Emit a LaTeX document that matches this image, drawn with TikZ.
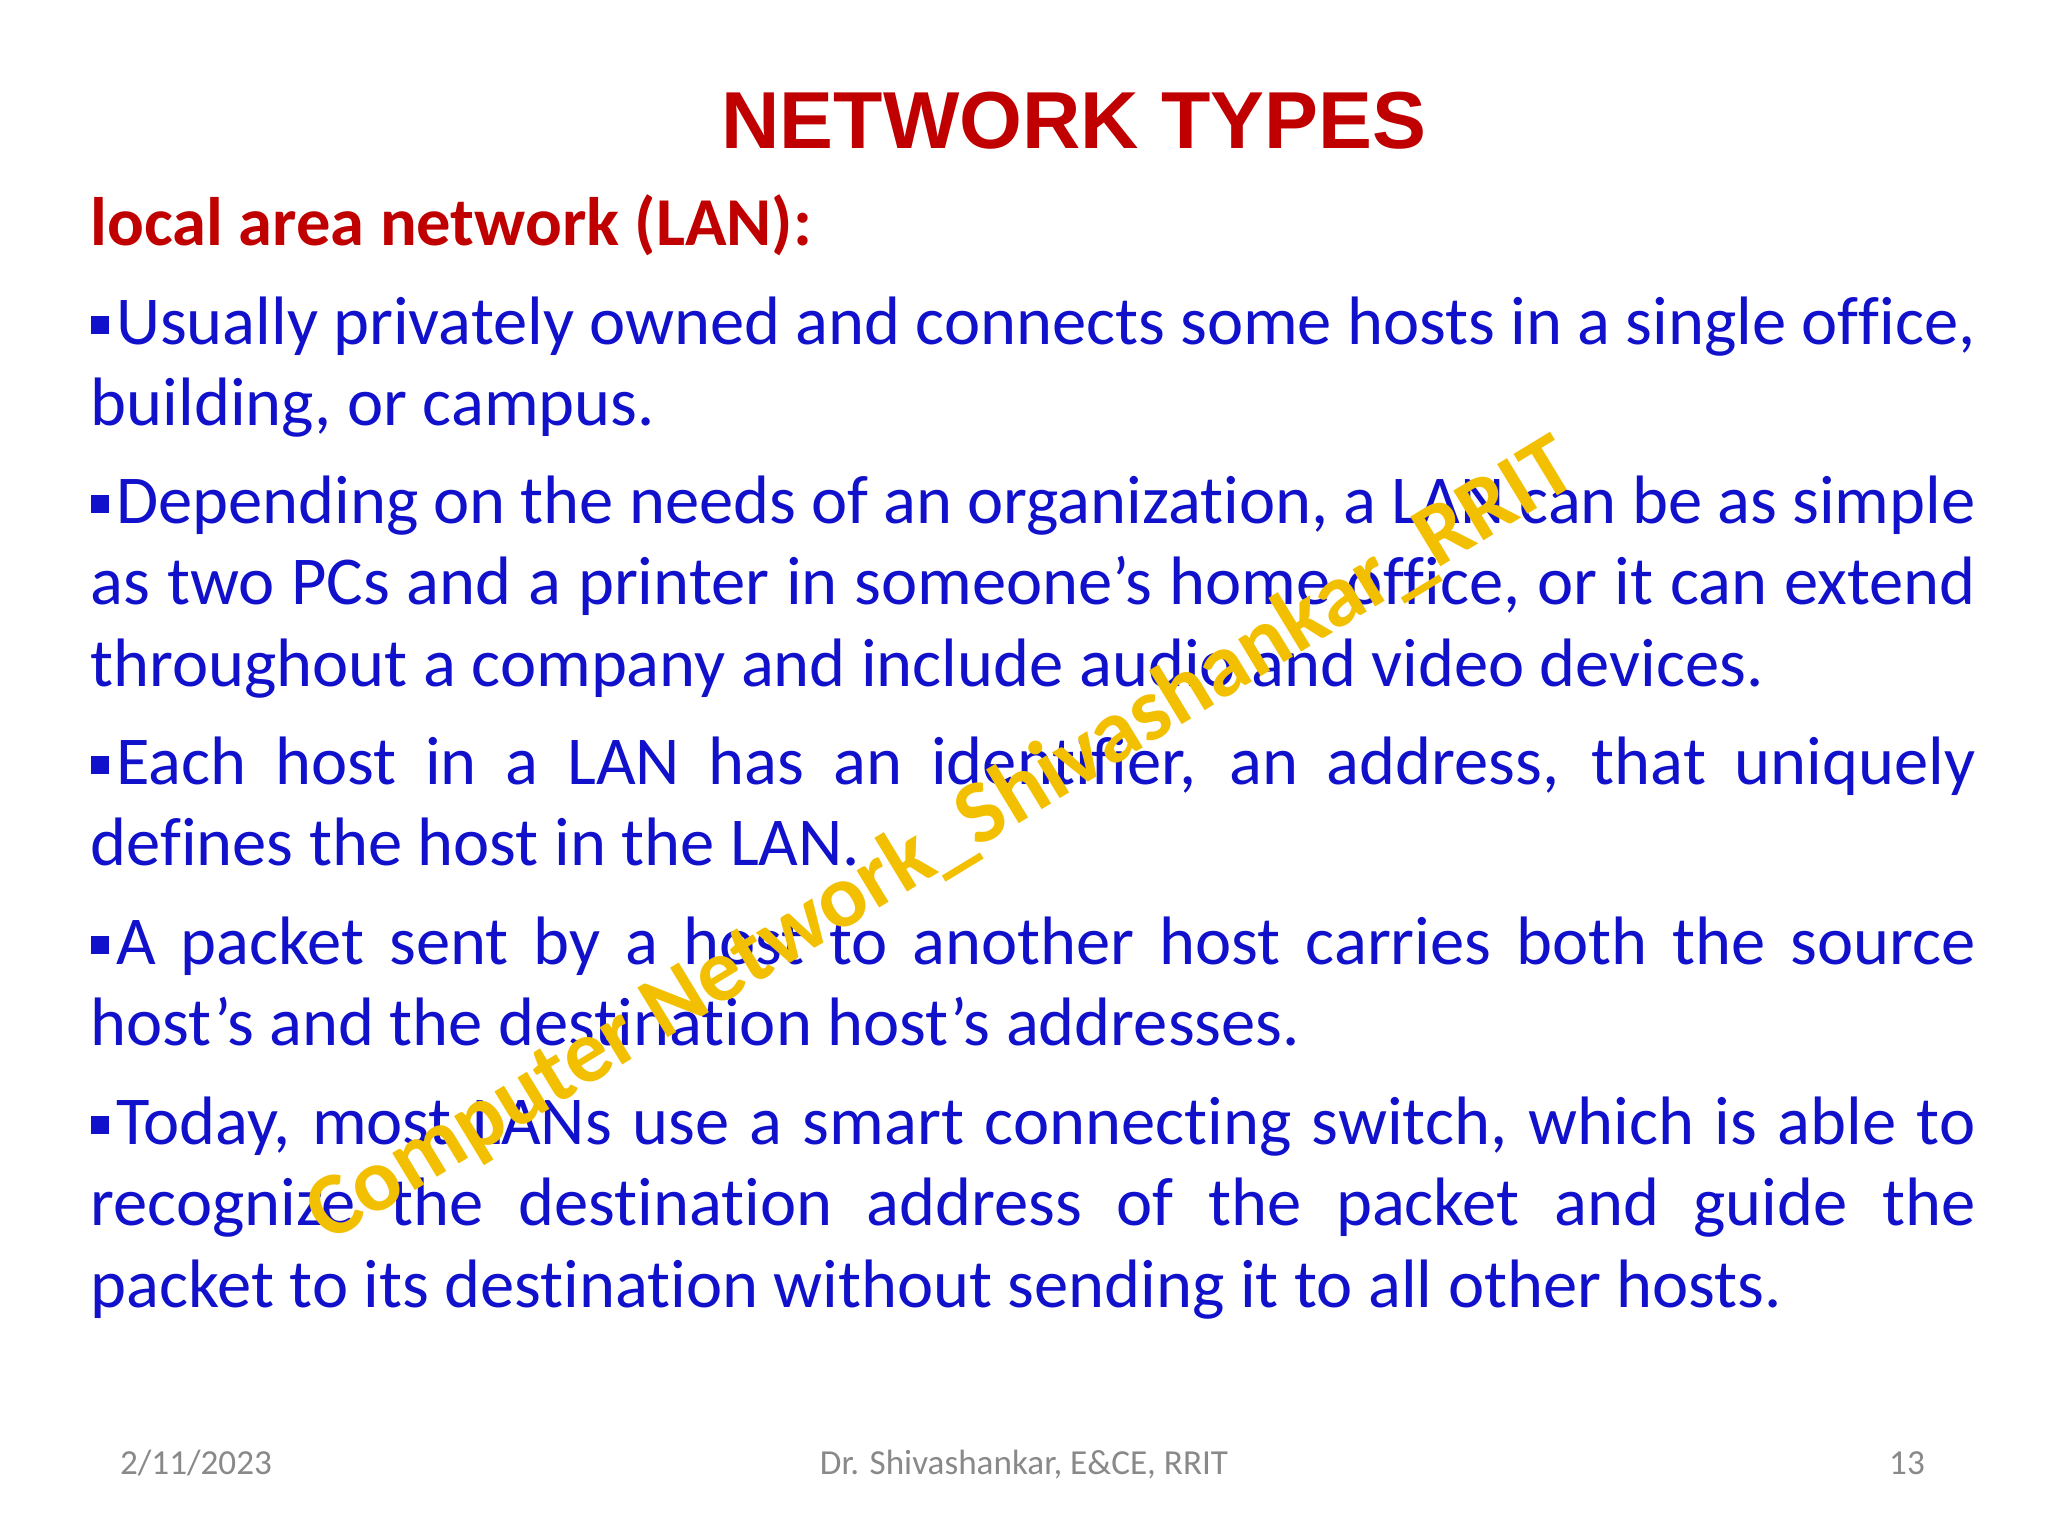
\documentclass[tikz,border=0pt]{standalone}
\usepackage{fontspec}
\setmainfont{Carlito}[RawFeature={-liga;-clig;-dlig}]
\newfontfamily\arialf{Liberation Sans}
\definecolor{dred}{RGB}{192,0,0}
\definecolor{tblue}{RGB}{17,17,204}
\definecolor{wmark}{RGB}{242,192,0}
\definecolor{fgray}{RGB}{137,137,137}
\newcommand{\sqb}{\raisebox{0.3ex}{\rule{0.27em}{0.27em}}\kern0.1em}
\newcommand{\nl}{\kern0pt}
\tikzset{para/.style={anchor=base west,inner sep=0pt,text width=188.5mm,align=justify,text=tblue,font=\fontsize{19.5}{23.2}\selectfont},
foot/.style={text=fgray,font=\fontsize{10}{12}\selectfont,inner sep=0pt,anchor=base}}
\begin{document}
\begin{tikzpicture}[x=0.1mm,y=-0.1mm]
\hyphenpenalty=10000 \exhyphenpenalty=10000
\useasboundingbox[fill=white] (0,0) rectangle (2048,1536);
\node[text=dred,font=\arialf\bfseries\fontsize{23}{28}\selectfont] (title) at (1074,121) {NETWORK TYPES};
\node[anchor=west,inner sep=0pt,text=dred,font=\bfseries\fontsize{19.5}{24}\selectfont] (head) at (90,225) {local area network (LAN):};
\node[para] (p1) at (90,344) {\sqb Usually privately owned and connects some hosts in a single of\nl f\nl ice,\linebreak building, or campus.};
\node[para] (p2) at (90,523) {\sqb Depending on the needs of an organization, a LAN can be as simple\linebreak as two PCs and a printer in someone’s home of\nl f\nl ice, or it can extend\linebreak throughout a company and include audio and video devices.};
\node[para] (p3) at (90,784) {\sqb Each host in a LAN has an identif\nl ier, an address, that uniquely\linebreak def\nl ines the host in the LAN.};
\node[para] (p4) at (90,964) {\sqb A packet sent by a host to another host carries both the source\linebreak host’s and the destination host’s addresses.};
\node[para] (p5) at (90,1144) {\sqb Today, most LANs use a smart connecting switch, which is able to\linebreak recognize the destination address of the packet and guide the\linebreak packet to its destination without sending it to all other hosts.};
\node[rotate=31.3,text=wmark,font=\bfseries\fontsize{25.5}{30}\selectfont] (wm) at (942,842) {Computer Network\_Shivashankar\_RRIT};
\node[foot] (date) at (196,1474) {2/11/2023};
\node[foot] (auth) at (1024,1474) {Dr. Shivashankar, E\&CE, RRIT};
\node[foot] (num) at (1907,1474) {13};
\end{tikzpicture}
\end{document}
